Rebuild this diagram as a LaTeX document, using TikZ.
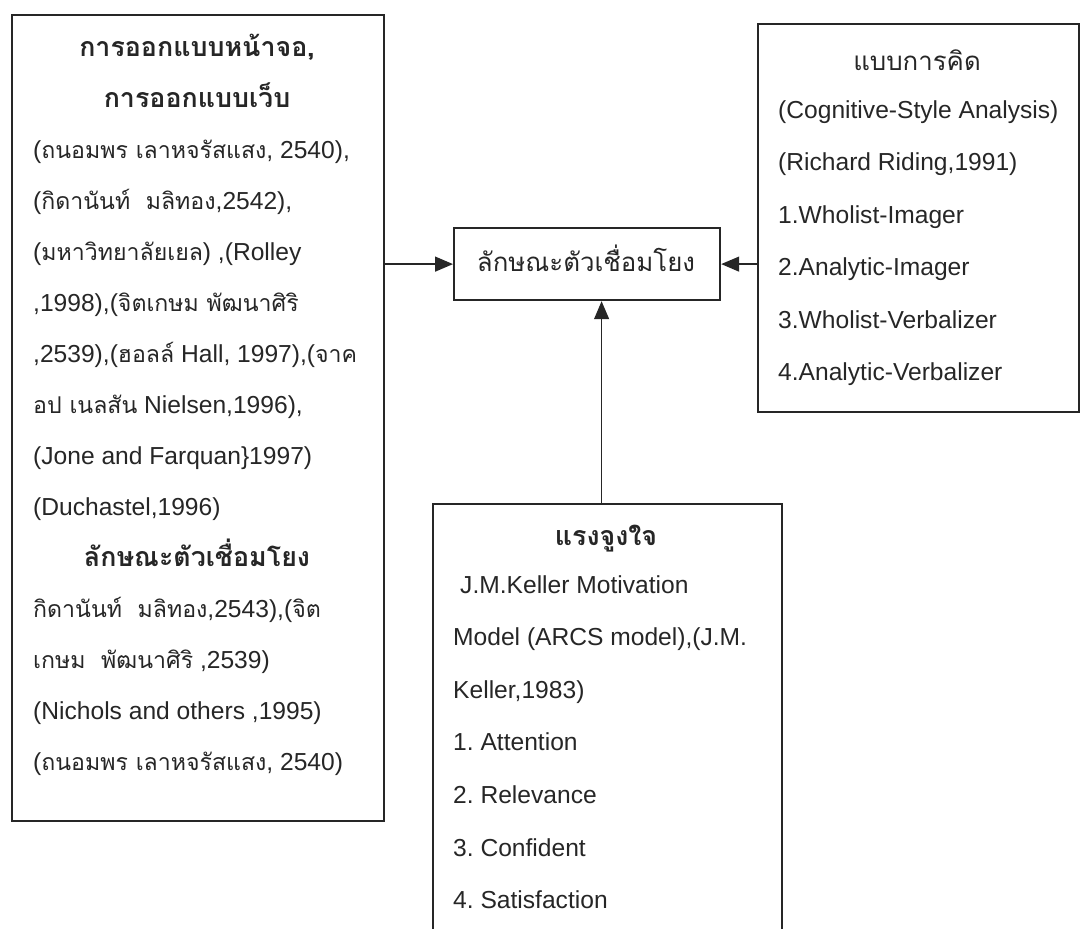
\documentclass[tikz,border=0pt]{standalone}
\usepackage{fontspec}
\setmainfont{Liberation Sans}
\newfontfamily\thaifont[Script=Thai,Scale=1.05]{Loma}
\newfontfamily\thaibody[Script=Thai,Scale=0.94]{Loma}
\newcommand\T[1]{{\thaibody #1}}
\newcommand\TT[1]{{\thaifont #1}}
\usetikzlibrary{arrows.meta}
\frenchspacing
\begin{document}
\begin{tikzpicture}[x=1pt,y=-1pt,
  box/.style={draw=black!85, line width=2.2pt, rectangle, inner sep=0pt, anchor=north west},
  txt/.style={anchor=base west, inner sep=0pt, font=\fontsize{24.6}{30}\selectfont, text=black!85},
  ttl/.style={anchor=base, inner sep=0pt, font=\fontsize{25.5}{30}\selectfont\bfseries, text=black!85},
  ctr/.style={anchor=base, inner sep=0pt, font=\fontsize{24.6}{30}\selectfont, text=black!85},
  arr/.style={draw=black!85, line width=1.4pt, -{Triangle[length=18pt,width=15pt]}}]
\useasboundingbox (0,0) rectangle (1080,929);
% boxes
\node[box, minimum width=372pt, minimum height=806pt] (L) at (11,14) {};
\node[box, minimum width=266pt, minimum height=72pt] (C) at (453,227) {};
\node[box, minimum width=321pt, minimum height=388pt] (R) at (757,23) {};
\node[box, minimum width=349pt, minimum height=460pt] (B) at (432,503) {};
% left box text
\node[ttl] (L1) at (197,56) {\TT{การออกแบบหน้าจอ,}};
\node[ttl] (L2) at (197,107) {\TT{การออกแบบเว็บ}};
\node[txt] (L3) at (33,158) {(\T{ถนอมพร เลาหจรัสแสง}, 2540),};
\node[txt] (L4) at (33,209) {(\T{กิดานันท์~~มลิทอง},2542),};
\node[txt] (L5) at (33,260) {(\T{มหาวิทยาลัยเยล}) ,(Rolley};
\node[txt] (L6) at (33,311) {,1998),(\T{จิตเกษม พัฒนาศิริ}};
\node[txt] (L7) at (33,362) {,2539),(\T{ฮอลล์} Hall, 1997),(\T{จาค}};
\node[txt] (L8) at (33,413) {\T{อป เนลสัน} Nielsen,1996),};
\node[txt] (L9) at (33,464) {(Jone and Farquan\}1997)};
\node[txt] (L10) at (33,515) {(Duchastel,1996)};
\node[ttl] (L11) at (197,566) {\TT{ลักษณะตัวเชื่อมโยง}};
\node[txt] (L12) at (33,617) {\T{กิดานันท์~~มลิทอง},2543),(\T{จิต}};
\node[txt] (L13) at (33,668) {\T{เกษม~~พัฒนาศิริ} ,2539)};
\node[txt] (L14) at (33,719) {(Nichols and others ,1995)};
\node[txt] (L15) at (33,770) {(\T{ถนอมพร เลาหจรัสแสง}, 2540)};
% centre box text
\node[ctr] (C1) at (586,271) {\TT{ลักษณะตัวเชื่อมโยง}};
% right box text
\node[ctr] (R1) at (917,70) {\TT{แบบการคิด}};
\node[txt] (R2) at (778,118) {(Cognitive-Style Analysis)};
\node[txt] (R3) at (778,170) {(Richard Riding,1991)};
\node[txt] (R4) at (778,223) {1.Wholist-Imager};
\node[txt] (R5) at (778,275) {2.Analytic-Imager};
\node[txt] (R6) at (778,328) {3.Wholist-Verbalizer};
\node[txt] (R7) at (778,380) {4.Analytic-Verbalizer};
% bottom box text
\node[ttl] (B1) at (606,545) {\TT{แรงจูงใจ}};
\node[txt] (B2) at (460,593) {J.M.Keller Motivation};
\node[txt] (B3) at (453,645) {Model (ARCS model),(J.M.};
\node[txt] (B4) at (453,698) {Keller,1983)};
\node[txt] (B5) at (453,750) {1. Attention};
\node[txt] (B6) at (453,803) {2. Relevance};
\node[txt] (B7) at (453,856) {3. Confident};
\node[txt] (B8) at (453,908) {4. Satisfaction};
% connectors
\draw[arr] (L.east |- C.west) -- (C.west);
\draw[arr] (R.west |- C.east) -- (C.east);
\draw[arr] ([xshift=-6pt]B.north) -- ([xshift=-6pt]B.north |- C.south);
\end{tikzpicture}
\end{document}
